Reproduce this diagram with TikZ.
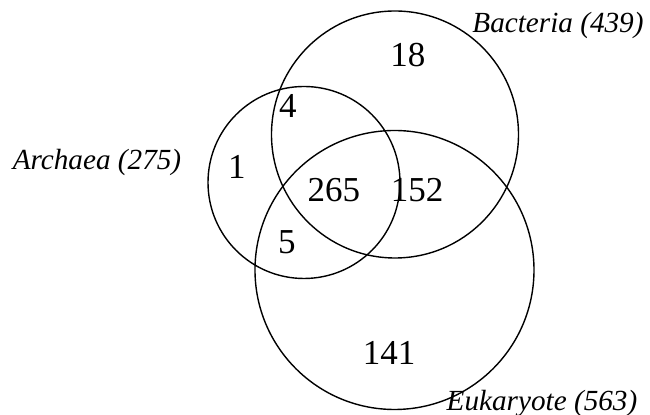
\documentclass[tikz,border=0pt]{standalone}
\usepackage{fontspec}
\setmainfont{Liberation Serif}
\begin{document}
\begin{tikzpicture}[x=0.5pt,y=-0.5pt,
		setname/.style={font=\fontsize{14.6}{16}\selectfont\itshape, inner sep=0pt},
		count/.style={font=\fontsize{17.5}{19}\selectfont, inner sep=0pt}]
			\useasboundingbox[fill=white](0,0) rectangle (650,415);
			\draw[line width=0.7pt](395,134.5) circle[radius=123.5];
			\draw[line width=0.7pt](304,182.5) circle[radius=96];
			\draw[line width=0.7pt](394.5,270) circle[radius=139.5];
			\node[setname] (bac) at (558,25) {Bacteria (439)};
			\node[setname] (arc) at (97,162) {Archaea (275)};
			\node[setname] (euk) at (542,404) {Eukaryote (563)};
			\node[count] (b) at (408,55) {18};
			\node[count] (ab) at (288,106) {4};
			\node[count] (a) at (237,167) {1};
			\node[count] (abe) at (334,190) {265};
			\node[count] (be) at (417,190) {152};
			\node[count] (ae) at (287,242) {5};
			\node[count] (e) at (389,353) {141};
		\end{tikzpicture}
\end{document}
